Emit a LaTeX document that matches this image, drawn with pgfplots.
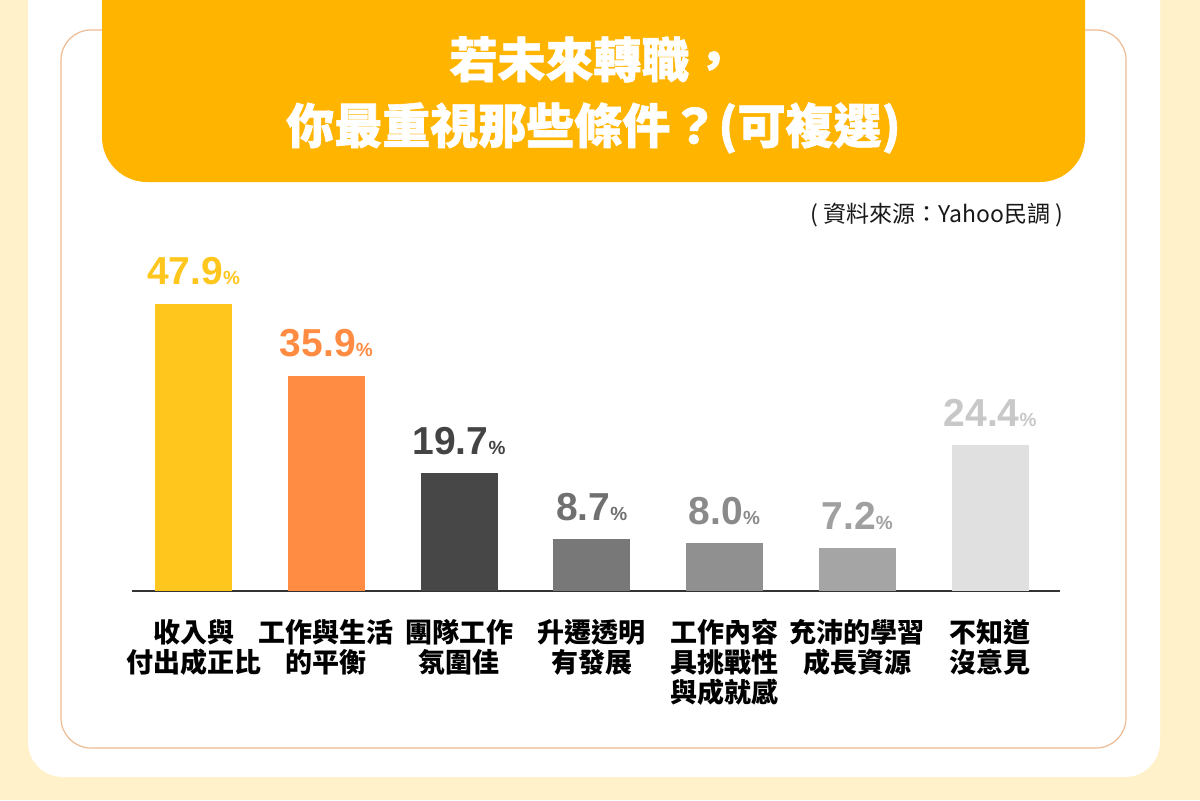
\documentclass[border=0pt]{standalone}
\usepackage{fontspec}
\usepackage{pgfplots}
\pgfplotsset{compat=1.18}
\setmainfont{Liberation Sans}
\newfontfamily\cjk{Noto Sans CJK TC}

\definecolor{bgcream}{HTML}{FFF2CB}
\definecolor{banner}{HTML}{FFB400}
\definecolor{frame}{HTML}{EDBB93}
\definecolor{barA}{HTML}{FFC61E}
\definecolor{barB}{HTML}{FF8C42}
\definecolor{barC}{HTML}{474747}
\definecolor{barD}{HTML}{787878}
\definecolor{barE}{HTML}{909090}
\definecolor{barF}{HTML}{A5A5A5}
\definecolor{barG}{HTML}{E0E0E0}
\definecolor{labC}{HTML}{444444}
\definecolor{labD}{HTML}{707070}
\definecolor{labE}{HTML}{8A8A8A}
\definecolor{labF}{HTML}{A0A0A0}
\definecolor{labG}{HTML}{C8C8C8}

\begin{document}
\begin{tikzpicture}[x=0.5pt,y=0.5pt]
\path[use as bounding box] (0,0) rectangle (1200,800);
\clip (0,0) rectangle (1200,800);

% page background, card, framed panel and title banner
\fill[bgcream] (0,0) rectangle (1200,800);
\fill[white, rounded corners=17.5pt] (28,23) rectangle (1160,860);
\draw[frame, line width=0.6pt, rounded corners=15pt] (61,52) rectangle (1126,770);
\fill[banner, rounded corners=22.5pt] (102,618) rectangle (1085,860);

\node[text=white, font=\cjk\bfseries\fontsize{24}{33}\selectfont\addfontfeature{FakeBold=1.2}, align=center]
  at (593.5,705) {若未來轉職，\\你最重視那些條件？(可複選)};

\node[anchor=east, font=\cjk\fontsize{11.5}{11.5}\selectfont, text=black!90]
  at (1070,585) {( 資料來源：Yahoo民調 )};

\begin{axis}[
  at={(66pt,104.5pt)}, anchor=south west,
  scale only axis, width=464pt, height=150pt,
  xmin=-0.4633, xmax=6.527, ymin=0, ymax=50,
  clip=false,
  ybar,
  axis x line*=bottom,
  axis y line*=left,
  y axis line style={draw=none},
  x axis line style={-, draw=black!80, line width=0.75pt},
  ytick=\empty,
  major tick length=0pt,
  xtick={0,1,2,3,4,5,6},
  xticklabels={{收入與\\付出成正比},{工作與生活\\的平衡},{團隊工作\\氛圍佳},{升遷透明\\有發展},{工作內容\\具挑戰性\\與成就感},{充沛的學習\\成長資源},{不知道\\沒意見}},
  xticklabel style={align=center, font=\cjk\bfseries\fontsize{13.5}{15}\selectfont, inner sep=0pt, yshift=-14pt, text=black},
  /pgf/number format/assume math mode=true,
  nodes near coords={\pgfmathprintnumber[fixed,fixed zerofill,precision=1]{\pgfplotspointmeta}{\fontsize{9.5}{9.5}\selectfont\%}},
  every node near coord/.append style={font=\bfseries\fontsize{19.5}{19.5}\selectfont, anchor=south, inner sep=0pt, yshift=9pt},
]
\addplot[fill=barA, draw=none, bar width=38.5pt, bar shift=0pt, every node near coord/.append style={text=barA}] coordinates {(0,47.9)};
\addplot[fill=barB, draw=none, bar width=38.5pt, bar shift=0pt, every node near coord/.append style={text=barB}] coordinates {(1,35.9)};
\addplot[fill=barC, draw=none, bar width=38.5pt, bar shift=0pt, every node near coord/.append style={text=labC}] coordinates {(2,19.7)};
\addplot[fill=barD, draw=none, bar width=38.5pt, bar shift=0pt, every node near coord/.append style={text=labD}] coordinates {(3,8.7)};
\addplot[fill=barE, draw=none, bar width=38.5pt, bar shift=0pt, every node near coord/.append style={text=labE}] coordinates {(4,8.0)};
\addplot[fill=barF, draw=none, bar width=38.5pt, bar shift=0pt, every node near coord/.append style={text=labF}] coordinates {(5,7.2)};
\addplot[fill=barG, draw=none, bar width=38.5pt, bar shift=0pt, every node near coord/.append style={text=labG}] coordinates {(6,24.4)};
\end{axis}
\end{tikzpicture}
\end{document}
